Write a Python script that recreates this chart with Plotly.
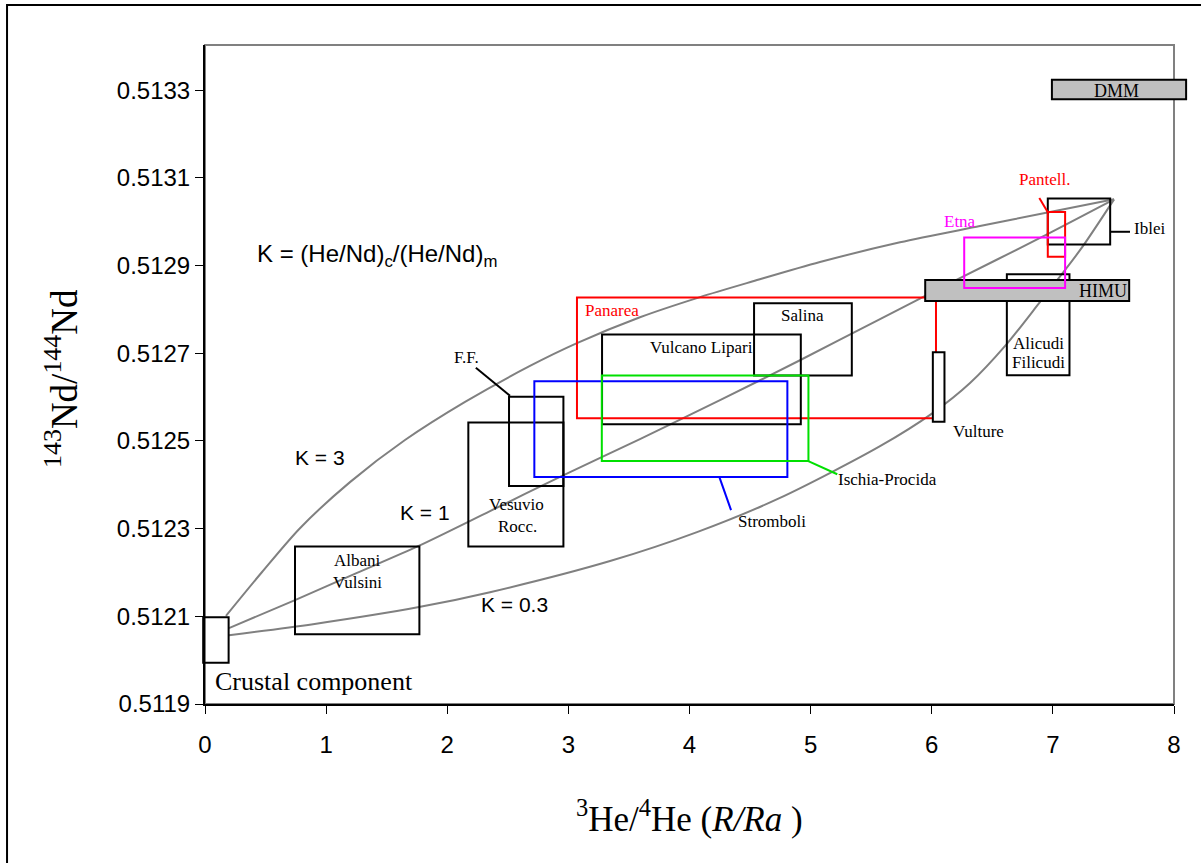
import plotly.graph_objects as go

# ---------------- data ----------------
X_RANGE = [0, 8]
Y_RANGE = [0.5119, 0.513403]
x_ticks = [0, 1, 2, 3, 4, 5, 6, 7, 8]
y_ticks = [0.5119, 0.5121, 0.5123, 0.5125, 0.5127, 0.5129, 0.5131, 0.5133]
y_ticktext = ["0.5119", "0.5121", "0.5123", "0.5125", "0.5127", "0.5129", "0.5131", "0.5133"]

# mixing curves (R/Ra, 143Nd/144Nd)
k3_x = [0.173, 0.471, 0.784, 1.197, 1.651, 2.147, 2.683, 3.071, 3.591, 4.087, 4.524, 5.077, 5.738, 6.398, 6.976, 7.505]
k3_y = [0.512101, 0.512201, 0.512301, 0.512406, 0.512502, 0.512589, 0.512671, 0.512723, 0.512782, 0.512828,
        0.512864, 0.512908, 0.512953, 0.512990, 0.513022, 0.513051]
k1_x = [0.198, 0.743, 1.255, 1.759, 2.353, 2.931, 3.591, 4.252, 4.912, 5.573, 6.167, 6.894, 7.505]
k1_y = [0.512073, 0.512137, 0.512199, 0.512260, 0.512340, 0.512418, 0.512504, 0.512593, 0.512684, 0.512778,
        0.512862, 0.512963, 0.513051]
k03_x = [0.198, 0.892, 1.767, 2.353, 3.344, 4.062, 4.747, 5.573, 6.010, 6.316, 6.613, 6.894, 7.224, 7.505]
k03_y = [0.512057, 0.512082, 0.512121, 0.512155, 0.512226, 0.512292, 0.512370, 0.512488, 0.512564, 0.512632,
         0.512719, 0.512817, 0.512935, 0.513051]

# field boxes: (x0, x1, y0, y1)
box_panarea = (3.071, 6.035, 0.512552, 0.512827)
box_albani = (0.743, 1.770, 0.512059, 0.512259)
box_vesuvio = (2.174, 2.959, 0.512259, 0.512542)
box_ff = (2.510, 2.959, 0.512397, 0.512601)
box_stromboli = (2.719, 4.808, 0.512418, 0.512636)
box_ischia = (3.276, 4.982, 0.512454, 0.512649)
box_vulcano = (3.278, 4.919, 0.512538, 0.512743)
box_salina = (4.533, 5.340, 0.512649, 0.512814)
box_alicudi = (6.620, 7.137, 0.512650, 0.512880)
box_vulture = (6.009, 6.105, 0.512544, 0.512702)
box_himu = (5.946, 7.630, 0.512819, 0.512867)
box_iblei = (6.958, 7.473, 0.512948, 0.513053)
box_pantell = (6.958, 7.101, 0.512920, 0.513022)
box_etna = (6.268, 7.101, 0.512849, 0.512964)
box_dmm = (6.992, 8.100, 0.513279, 0.513324)
box_crust = (-0.015, 0.195, 0.511994, 0.512098)

# leader lines (x0, y0, x1, y1)
lead_ff = (2.236, 0.512667, 2.518, 0.512603)
lead_stromboli = (4.246, 0.512418, 4.343, 0.512342)
lead_ischia = (4.981, 0.512454, 5.220, 0.512424)
lead_iblei = (7.472, 0.512977, 7.637, 0.512977)
lead_pantell = (6.888, 0.513054, 6.957, 0.513022)

# labels (text, x, y, colour, size, anchor)
labels = [
    ("Albani", 1.255, 0.512228, "black", 17, "center"),
    ("Vulsini", 1.255, 0.512178, "black", 17, "center"),
    ("Vesuvio", 2.568, 0.512354, "black", 17, "center"),
    ("Rocc.", 2.576, 0.512304, "black", 17, "center"),
    ("F.F.", 2.163, 0.512691, "black", 17, "center"),
    ("Panarea", 3.121, 0.512798, "red", 17, "left"),
    ("Vulcano Lipari", 4.103, 0.512714, "black", 17, "center"),
    ("Salina", 4.929, 0.512787, "black", 17, "center"),
    ("Stromboli", 4.681, 0.512317, "black", 17, "center"),
    ("Ischia-Procida", 5.631, 0.512411, "black", 17, "center"),
    ("Vulture", 6.382, 0.512522, "black", 17, "center"),
    ("HIMU", 7.414, 0.512842, "black", 18, "center"),
    ("DMM", 7.529, 0.513298, "black", 18, "center"),
    ("Alicudi", 6.885, 0.512723, "black", 17, "center"),
    ("Filicudi", 6.885, 0.512678, "black", 17, "center"),
    ("Iblei", 7.794, 0.512985, "black", 17, "center"),
    ("Pantell.", 6.927, 0.513097, "red", 17, "center"),
    ("Etna", 6.233, 0.513001, "magenta", 17, "center"),
    ("Crustal component", 0.900, 0.511952, "black", 26, "center"),
]
k_labels = [
    ("K = 3", 0.949, 0.512463),
    ("K = 1", 1.816, 0.512336),
    ("K = 0.3", 2.559, 0.512126),
]
k_formula = ("K = (He/Nd)<sub>c</sub>/(He/Nd)<sub>m</sub>", 0.413, 0.512924)

SERIF = "Liberation Serif, Times New Roman, serif"
SANS = "Liberation Sans, Arial, sans-serif"
GRAY = "#808080"

fig = go.Figure()
for xs, ys in [(k3_x, k3_y), (k1_x, k1_y), (k03_x, k03_y)]:
    fig.add_trace(go.Scatter(x=xs, y=ys, mode="lines", line=dict(color=GRAY, width=2, shape="spline", smoothing=0.8),
                             hoverinfo="skip", showlegend=False))


def to_paper_x(v):
    return (v - X_RANGE[0]) / (X_RANGE[1] - X_RANGE[0])


shapes = []
# plot frame (gray top/right)
shapes.append(dict(type="rect", xref="paper", yref="paper", x0=0, x1=1, y0=0, y1=1,
                   line=dict(color=GRAY, width=2), layer="below"))
# outer figure border
shapes.append(dict(type="rect", xref="paper", yref="paper", x0=-0.2043, x1=1.06, y0=-0.3, y1=1.0607,
                   line=dict(color="black", width=2), layer="below"))


def box(b, color="black", fill=None, paper_x=False, width=2):
    x0, x1, y0, y1 = b
    d = dict(type="rect", yref="y", y0=y0, y1=y1, line=dict(color=color, width=width))
    if paper_x:
        d.update(xref="paper", x0=to_paper_x(x0), x1=to_paper_x(x1))
    else:
        d.update(xref="x", x0=x0, x1=x1)
    if fill:
        d["fillcolor"] = fill
    shapes.append(d)


def lead(l, color="black"):
    shapes.append(dict(type="line", xref="x", yref="y", x0=l[0], y0=l[1], x1=l[2], y1=l[3],
                       line=dict(color=color, width=2)))


box(box_panarea, "red")
box(box_albani)
box(box_vesuvio)
box(box_ff)
box(box_vulcano)
box(box_salina)
box(box_stromboli, "blue")
box(box_ischia, "#00e000")
box(box_alicudi)
box(box_vulture, fill="white")
box(box_himu, fill="#c0c0c0")
box(box_iblei)
box(box_pantell, "red")
box(box_etna, "magenta")
box(box_dmm, fill="#c0c0c0", paper_x=True)
box(box_crust, paper_x=True)
lead(lead_ff)
lead(lead_stromboli, "blue")
lead(lead_ischia, "#00e000")
lead(lead_iblei)
lead(lead_pantell, "red")

annotations = []
for t, x, y, c, s, a in labels:
    annotations.append(dict(text=t, x=x, y=y, xref="x", yref="y", showarrow=False,
                            font=dict(family=SERIF, size=s, color=c), xanchor=a, yanchor="middle"))
for t, x, y in k_labels:
    annotations.append(dict(text=t, x=x, y=y, xref="x", yref="y", showarrow=False,
                            font=dict(family=SANS, size=21, color="black"), xanchor="center", yanchor="middle"))
annotations.append(dict(text=k_formula[0], x=k_formula[1], y=k_formula[2], xref="x", yref="y",
                        showarrow=False, font=dict(family=SANS, size=24, color="black"),
                        xanchor="left", yanchor="middle"))
# axis titles
annotations.append(dict(text="<sup>143</sup>Nd/<sup>144</sup>Nd", x=-0.1476, y=0.4947,
                        xref="paper", yref="paper", showarrow=False, textangle=-90,
                        font=dict(family=SERIF, size=37, color="black"), xanchor="center", yanchor="middle"))
annotations.append(dict(text="<sup>3</sup>He/<sup>4</sup>He (<i>R/Ra</i> )", x=0.5005, y=-0.170,
                        xref="paper", yref="paper", showarrow=False,
                        font=dict(family=SERIF, size=35, color="black"), xanchor="center", yanchor="middle"))

fig.update_layout(
    width=1201, height=863,
    margin=dict(l=205, r=27, t=45, b=159),
    paper_bgcolor="white", plot_bgcolor="white",
    showlegend=False,
    shapes=shapes,
    annotations=annotations,
    xaxis=dict(range=X_RANGE, tickvals=x_ticks, showgrid=False, zeroline=False,
               showline=True, linecolor="black", linewidth=2, ticks="outside", ticklen=8,
               tickcolor="black", tickwidth=1, ticklabelstandoff=10,
               tickfont=dict(family=SANS, size=24, color="black")),
    yaxis=dict(range=Y_RANGE, tickvals=y_ticks, ticktext=y_ticktext, showgrid=False, zeroline=False,
               showline=True, linecolor="black", linewidth=2, ticks="outside", ticklen=8,
               tickcolor="black", tickwidth=1,
               tickfont=dict(family=SANS, size=24, color="black")),
)

fig.write_html("out.html")
